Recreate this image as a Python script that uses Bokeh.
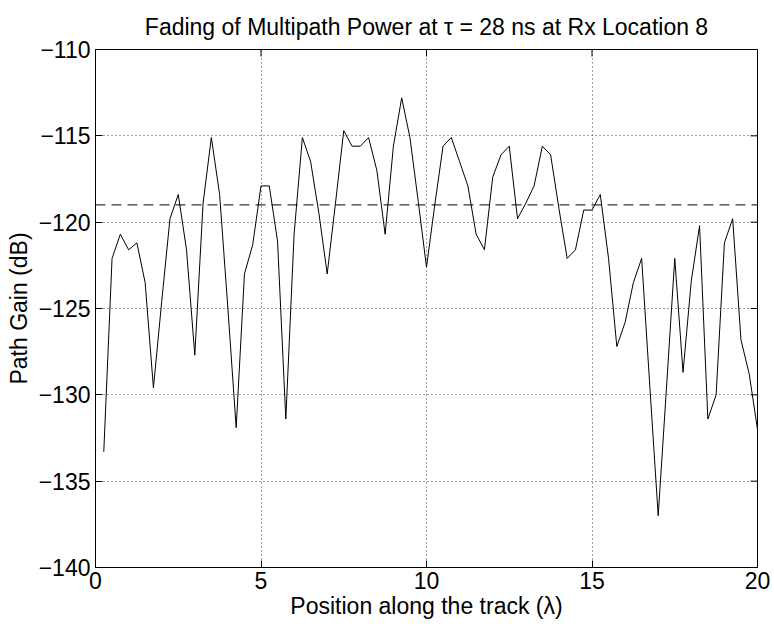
import math
from bokeh.plotting import figure
from bokeh.models import FixedTicker, Span, Range1d
from bokeh.embed import file_html
from bokeh.resources import INLINE

# Position along the track (wavelengths)
position = [0.25, 0.5, 0.75, 1.0, 1.25, 1.5, 1.75, 2.0, 2.25, 2.5,
            2.75, 3.0, 3.25, 3.5, 3.75, 4.0, 4.25, 4.5, 4.75, 5.0,
            5.25, 5.5, 5.75, 6.0, 6.25, 6.5, 6.75, 7.0, 7.25, 7.5,
            7.75, 8.0, 8.25, 8.5, 8.75, 9.0, 9.25, 9.5, 9.75, 10.0,
            10.25, 10.5, 10.75, 11.0, 11.25, 11.5, 11.75, 12.0, 12.25, 12.5,
            12.75, 13.0, 13.25, 13.5, 13.75, 14.0, 14.25, 14.5, 14.75, 15.0,
            15.25, 15.5, 15.75, 16.0, 16.25, 16.5, 16.75, 17.0, 17.25, 17.5,
            17.75, 18.0, 18.25, 18.5, 18.75, 19.0, 19.25, 19.5, 19.75, 20.0]

# Path gain (dB)
path_gain = [-133.3, -122.1, -120.7, -121.6, -121.2, -123.5, -129.6, -124.6, -119.8, -118.4,
             -121.6, -127.7, -118.9, -115.1, -118.4, -125.0, -131.9, -123.0, -121.3, -117.9,
             -117.9, -121.1, -131.4, -120.7, -115.1, -116.5, -119.5, -123.0, -118.9, -114.7,
             -115.6, -115.6, -115.1, -117.0, -120.7, -115.6, -112.8, -115.1, -118.8, -122.6,
             -119.0, -115.6, -115.1, -116.5, -117.9, -120.7, -121.6, -117.4, -116.1, -115.6,
             -119.8, -118.9, -117.9, -115.6, -116.1, -119.2, -122.1, -121.6, -119.3, -119.3,
             -118.4, -122.1, -127.2, -125.8, -123.5, -122.1, -129.6, -137.0, -129.6, -122.1,
             -128.7, -123.4, -120.2, -131.4, -130.0, -121.2, -119.8, -126.8, -128.8, -132.0]

mean_level = -119.0

x_min, x_max = 0, 20
y_min, y_max = -140, -110
x_ticks = [0, 5, 10, 15, 20]
y_ticks = [-140, -135, -130, -125, -120, -115, -110]
y_tick_labels = {t: "\u2212" + str(abs(t)) for t in y_ticks}

FONT = "Liberation Sans"
FS = "23px"

p = figure(width=774, height=629, output_backend="svg", toolbar_location=None,
           x_range=Range1d(x_min, x_max), y_range=Range1d(y_min, y_max),
           min_border_left=95, min_border_right=17, min_border_top=49, min_border_bottom=62,
           title="Fading of Multipath Power at \u03c4 = 28 ns at Rx Location 8")

p.title.align = "center"
p.title.vertical_align = "top"
p.title.text_font = FONT
p.title.text_font_size = FS
p.title.text_font_style = "normal"
p.title.text_color = "black"
p.title.standoff = 16

p.background_fill_color = "white"
p.border_fill_color = "white"
p.outline_line_color = "black"
p.outline_line_width = 1

for ax in p.xaxis:
    ax.ticker = FixedTicker(ticks=x_ticks)
for ax in p.yaxis:
    ax.ticker = FixedTicker(ticks=y_ticks)
    ax.major_label_overrides = y_tick_labels

p.xaxis.axis_label = "Position along the track (\u03bb)"
p.yaxis.axis_label = "Path Gain (dB)"

for ax in list(p.xaxis) + list(p.yaxis):
    ax.axis_label_text_font = FONT
    ax.axis_label_text_font_size = FS
    ax.axis_label_text_font_style = "normal"
    ax.axis_label_text_color = "black"
    ax.major_label_text_font = FONT
    ax.major_label_text_font_size = FS
    ax.major_label_text_color = "black"
    ax.major_tick_in = 7
    ax.major_tick_out = 0
    ax.minor_tick_in = 0
    ax.minor_tick_out = 0
    ax.axis_line_color = "black"
    ax.major_tick_line_color = "black"

p.xaxis.major_label_standoff = 4
p.xaxis.axis_label_standoff = 1
p.yaxis.major_label_standoff = 5
p.yaxis.axis_label_standoff = 4

p.xgrid.ticker = FixedTicker(ticks=x_ticks)
p.ygrid.ticker = FixedTicker(ticks=y_ticks)
for g in (p.xgrid, p.ygrid):
    g.grid_line_color = "#444444"
    g.grid_line_dash = "1 3"
    g.grid_line_width = 1

# mirrored inward ticks on the top and right edges (box on); clipped to the frame
p.scatter(x=x_ticks, y=[y_max] * len(x_ticks), marker="dash", angle=math.pi / 2,
          size=14, line_color="black", line_width=1)
p.scatter(x=[x_max] * len(y_ticks), y=y_ticks, marker="dash",
          size=14, line_color="black", line_width=1)

p.add_layout(Span(location=mean_level, dimension="width", line_color="black",
                  line_dash="10 6", line_width=1))

p.line(position, path_gain, line_color="black", line_width=1)

open("out.html", "w").write(file_html(p, INLINE))
